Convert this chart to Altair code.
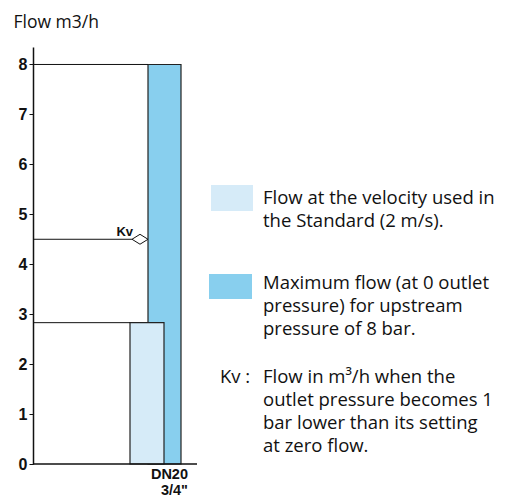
import altair as alt
import pandas as pd

# ---- data ----
sizes = ["DN20"]
size_label = ['DN20', '3/4"']
flow_standard = [2.83]   # flow at 2 m/s (m3/h)
flow_max = [8.0]         # maximum flow (m3/h)
kv_value = [4.5]         # Kv (m3/h)
y_ticks = [0, 1, 2, 3, 4, 5, 6, 7, 8]
legend_standard = ["Flow at the velocity used in", "the Standard  (2 m/s)."]
legend_max = ["Maximum flow (at 0 outlet", "pressure) for upstream", "pressure of 8 bar."]
kv_note = ["Flow in m\u00b3/h when the", "outlet pressure becomes 1",
           "bar lower than its setting", "at zero flow."]

# ---- layout ----
PLOT_W, PLOT_H = 164, 417
Y_MAX = 8.35
LIGHT = "#d6ebf8"
DARK = "#88cfee"
TXT_FONT = "Open Sans"
NUM_FONT = "Liberation Sans"

df = pd.DataFrame({"size": sizes, "standard": flow_standard,
                   "max": flow_max, "kv": kv_value})
base = alt.Chart(df)
ys = alt.Scale(domain=[0, Y_MAX], nice=False, zero=True)

y_axis = alt.Axis(values=y_ticks, format="d", grid=False,
                  title="Flow m3/h", titleAngle=0, titleX=-20, titleY=-25,
                  titleAlign="left", titleBaseline="middle", titleFont=TXT_FONT,
                  titleFontSize=17.5, titleFontWeight="normal", titleColor="#111",
                  labelFont=NUM_FONT, labelFontWeight="bold", labelFontSize=16,
                  labelColor="#111", labelPadding=2, tickSize=4, tickColor="#111",
                  domainColor="#111", domainWidth=1.5, tickWidth=1)

dark_bar = base.mark_rect(fill=DARK, stroke="#222", strokeWidth=1.2).encode(
    x=alt.value(115), x2=alt.value(148),
    y=alt.Y("max:Q", scale=ys, axis=y_axis), y2=alt.datum(0))

light_bar = base.mark_rect(fill=LIGHT, stroke="#222", strokeWidth=1.2).encode(
    x=alt.value(97), x2=alt.value(131),
    y=alt.Y("standard:Q", scale=ys), y2=alt.datum(0))

rule_max = base.mark_rule(color="#111", strokeWidth=1).encode(
    x=alt.value(0), x2=alt.value(115), y=alt.Y("max:Q", scale=ys))
rule_std = base.mark_rule(color="#111", strokeWidth=1).encode(
    x=alt.value(0), x2=alt.value(97), y=alt.Y("standard:Q", scale=ys))
rule_kv = base.mark_rule(color="#111", strokeWidth=1).encode(
    x=alt.value(0), x2=alt.value(99), y=alt.Y("kv:Q", scale=ys))

kv_point = base.mark_point(shape="M -1 0 L 0 -0.62 L 1 0 L 0 0.62 Z", size=256,
                           filled=True, fill="white", stroke="#111",
                           strokeWidth=1, opacity=1).encode(
    x=alt.value(107), y=alt.Y("kv:Q", scale=ys))
kv_text = base.mark_text(text="Kv", font=NUM_FONT, fontWeight="bold", fontSize=13,
                         align="right", baseline="alphabetic", dy=-3,
                         color="#111").encode(
    x=alt.value(100), y=alt.Y("kv:Q", scale=ys))

x_line = base.mark_rule(color="#111", strokeWidth=1.5).encode(
    x=alt.value(0), x2=alt.value(PLOT_W), y=alt.datum(0))

cat_text = base.mark_text(text=size_label, font=NUM_FONT, fontWeight="bold",
                          fontSize=14.5, align="right", baseline="alphabetic",
                          lineHeight=16, color="#111").encode(
    x=alt.value(155), y=alt.value(PLOT_H + 15))

sw_light = base.mark_rect(fill=LIGHT).encode(
    x=alt.value(178), x2=alt.value(220), y=alt.value(138), y2=alt.value(164))
sw_dark = base.mark_rect(fill=DARK).encode(
    x=alt.value(176), x2=alt.value(219), y=alt.value(227), y2=alt.value(252))

def note(lines, x, y):
    return base.mark_text(text=lines, font=TXT_FONT, fontSize=18.5, align="left",
                          baseline="alphabetic", lineHeight=23,
                          color="#111").encode(x=alt.value(x), y=alt.value(y))

t_std = note(legend_standard, 230, 157)
t_max = note(legend_max, 230, 242)
t_kvlab = note(["Kv :"], 187, 336)
t_kv = note(kv_note, 230, 336)

chart = alt.layer(dark_bar, light_bar, rule_max, rule_std, rule_kv, kv_point,
                  kv_text, x_line, cat_text, sw_light, sw_dark,
                  t_std, t_max, t_kvlab, t_kv).properties(
    width=PLOT_W, height=PLOT_H,
    padding={"left": 25, "top": 39, "right": 310, "bottom": 35},
    autosize=alt.AutoSizeParams(type="none"),
).configure_view(stroke=None)

chart.save("out.html", embed_options={"renderer": "svg", "actions": False})
